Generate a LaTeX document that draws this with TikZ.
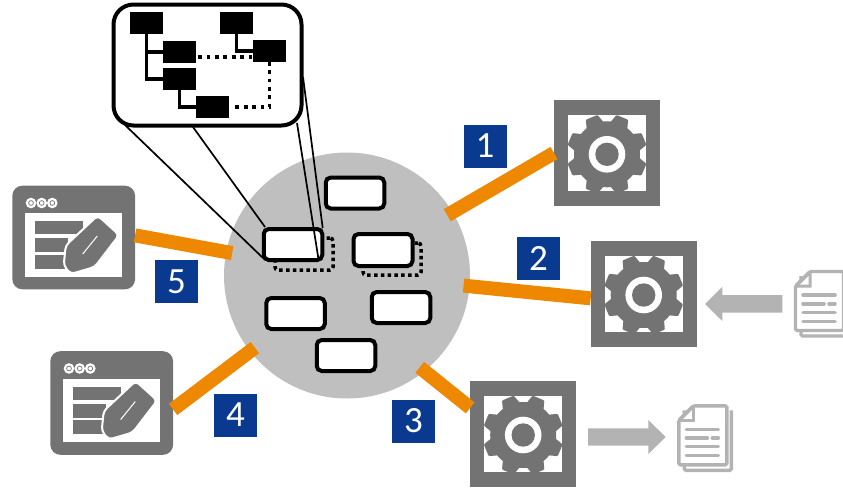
\documentclass[tikz,border=0pt]{standalone}
\usepackage{fontspec}
\setmainfont{Carlito}
\definecolor{icongray}{HTML}{737373}
\definecolor{hubgray}{HTML}{BFBFBF}
\definecolor{lightgray2}{HTML}{B3B3B3}
\definecolor{connorange}{HTML}{EE8800}
\definecolor{badgeblue}{HTML}{0A3A8F}
\tikzset{
  hubnode/.style={circle,fill=hubgray,minimum size=246pt,inner sep=0pt,outer sep=0pt},
  gearbox/.style={rectangle,fill=icongray,minimum size=106pt,inner sep=0pt,outer sep=0pt},
  editbox/.style={rectangle,rounded corners=10pt,fill=icongray,minimum width=122.7pt,minimum height=103.6pt,inner sep=0pt,outer sep=0pt},
  whitebox/.style={rectangle,rounded corners=5pt,draw=black,fill=white,line width=4pt,minimum width=58.5pt,minimum height=31pt,inner sep=0pt,outer sep=0pt},
  dotbox/.style={rectangle,rounded corners=3pt,draw=black,line width=3.5pt,dash pattern=on 3.5pt off 3.3pt,minimum width=58pt,minimum height=32pt,inner sep=0pt,outer sep=0pt},
  callout/.style={rectangle,rounded corners=20pt,draw=black,fill=white,line width=4pt,minimum width=188pt,minimum height=121pt,inner sep=0pt,outer sep=0pt},
  blackbox/.style={rectangle,fill=black,minimum width=33pt,minimum height=21.4pt,inner sep=0pt,outer sep=0pt},
  badge/.style={rectangle,fill=badgeblue,text=white,minimum width=43pt,minimum height=43pt,inner sep=0pt,font=\fontsize{37}{37}\selectfont},
  conn/.style={connorange,line width=14pt,shorten <=-6pt},
  treeline/.style={black,line width=3.6pt},
  dotline/.style={black,line width=3.8pt,dash pattern=on 3.8pt off 4.6pt},
  zoomline/.style={black,line width=1.7pt},
  grayarrow/.style={fill=lightgray2},
  gearicon/.pic={
    \fill[white] (-39.2,-38.2) rectangle (39.2,38.2);
    \begin{scope}[shift={(0,1.3)}]
      \fill[icongray] (0,0) circle[radius=33];
      \foreach \a in {22.5,67.5,...,337.5}
        \fill[icongray,rounded corners=1pt] (\a-18:31) -- (\a-9:40.5) -- (\a+9:40.5) -- (\a+18:31) -- cycle;
      \fill[white] (0,0) circle[radius=18.3];
      \fill[icongray] (0,0) circle[radius=11.7];
    \end{scope}
  },
  editicon/.pic={
    \fill[white] (-49,-24.2) rectangle (48.6,39.2);
    \foreach \x in {-42.7,-32,-21.4}{
      \fill[white] (\x,-34.5) circle[radius=5.3];
      \draw[icongray,line width=.7pt] (\x,-34.5) circle[radius=2.4];
    }
    \fill[icongray] (-39,-16.2) rectangle (9.3,-3.5);
    \fill[icongray] (-39,0.5) rectangle (-6,14.5);
    \fill[icongray] (-39,17.2) rectangle (-8,31.2);
    \draw[fill=icongray,draw=white,line width=2pt,rounded corners=4pt]
      (24,-22) -- (45.5,-2.5) -- (21,29.5) -- (-3,36.5) -- (-10,28) -- (-8,8) -- cycle;
    \draw[white,line width=1pt] (23.6,-1.5) -- (9,16.5);
  },
  docicon/.pic={
    \draw[lightgray2,line width=3.4pt,rounded corners=1.5pt] (7,6) -- (7,66) -- (54,66) -- (54,6);
    \draw[lightgray2,fill=white,line width=3.4pt,rounded corners=1.5pt] (16,1.5) -- (49.5,1.5) -- (49.5,60.5) -- (1.5,60.5) -- (1.5,16) -- cycle;
    \fill[lightgray2] (16,1.5) -- (17.5,1.5) -- (17.5,17.5) -- (1.5,17.5) -- (1.5,16) -- cycle;
    \fill[white] (14.5,6) -- (14.5,14.5) -- (6,14.5) -- cycle;
    \draw[lightgray2,line width=3.6pt,line cap=round] (9,25) -- (41,25);
    \draw[lightgray2,line width=3.6pt,line cap=round] (9,33.7) -- (30,33.7);
    \draw[lightgray2,line width=3.6pt,line cap=round] (35,33.7) -- (41,33.7);
    \draw[lightgray2,line width=3.6pt,line cap=round] (9,42.3) -- (41,42.3);
    \draw[lightgray2,line width=3.6pt,line cap=round] (9,51.3) -- (41,51.3);
  }
}
\begin{document}
\begin{tikzpicture}[x=1pt,y=-1pt]
\useasboundingbox (0,0) rectangle (843,488);
% hub
\node[hubnode] (hub) at (347,275.5) {};
% icons
\node[gearbox] (g1) at (607,153) {};
\node[gearbox] (g2) at (643.7,293.7) {};
\node[gearbox] (g3) at (523.2,433.7) {};
\node[editbox] (e5) at (73.7,237.5) {};
\node[editbox] (e4) at (111.7,403) {};
% connectors
\draw[conn] (hub.31.4) -- (g1.west);
\draw[conn] (hub.-5.7) -- (g2.185.4);
\draw[conn] (hub.-51.4) -- (g3.154);
\draw[conn] (hub.218) -- (e4.-6.5);
\draw[conn] (hub.169) -- (e5.2.5);
\pic at (g1.center) {gearicon};
\pic at (g2.center) {gearicon};
\pic at (g3.center) {gearicon};
\pic at (e5.center) {editicon};
\pic at (e4.center) {editicon};
% gray arrows and documents
\fill[grayarrow] (782.3,295) -- (722.3,295) -- (722.3,286.7) -- (705,304) -- (722.3,321) -- (722.3,312.7) -- (782.3,312.7) -- cycle;
\fill[grayarrow] (588,428.3) -- (648.3,428.3) -- (648.3,420) -- (665.7,437) -- (648.3,454) -- (648.3,445.7) -- (588,445.7) -- cycle;
\pic at (794,270) {docicon};
\pic at (677.3,404.3) {docicon};
% boxes in hub
\node[dotbox] (d2) at (304,254) {};
\node[dotbox] (d3) at (392,259) {};
\node[whitebox] (b1) at (355,193) {};
\node[whitebox] (b2) at (293,244.5) {};
\node[whitebox,minimum width=59pt,minimum height=32pt] (b3) at (383,250) {};
\node[whitebox] (b4) at (295.5,313.5) {};
\node[whitebox] (b5) at (401,307.5) {};
\node[whitebox] (b6) at (346,355.5) {};
% callout
\node[callout] (call) at (207.5,65) {};
\coordinate (z1) at (125,125);
\coordinate (z2) at (193,127);
\coordinate (z3) at (297,123);
\coordinate (z4) at (303,77);
\coordinate (t1) at (263,258);
\coordinate (t2) at (265,227);
\coordinate (t3) at (318.3,258);
\coordinate (t4) at (322.7,228);
\draw[zoomline] (z1) -- (t1);
\draw[zoomline] (z2) -- (t2);
\draw[zoomline] (z3) -- (t3);
\draw[zoomline] (z4) -- (t4);
\node[blackbox] (A) at (146.3,23) {};
\node[blackbox] (B) at (179.6,52) {};
\node[blackbox] (C) at (179.6,79) {};
\node[blackbox] (D) at (212.5,107) {};
\node[blackbox] (E) at (236.5,23) {};
\node[blackbox] (F) at (269.5,51) {};
\draw[treeline] (A.south) |- (B.west);
\draw[treeline] (A.south) |- (C.west);
\draw[treeline] (C.south) |- (D.west);
\draw[treeline] (E.south) |- (F.west);
\coordinate (bd) at ([yshift=-5pt]B.east);
\draw[dotline] ([xshift=2pt]bd) -- (bd -| F.west);
\draw[dotline] (F.south) |- ([xshift=4pt]D.east);
% badges
\node[badge] (n1) at (485,146) {1};
\node[badge] (n2) at (538.5,258.5) {2};
\node[badge] (n3) at (413.5,421) {3};
\node[badge] (n4) at (235.5,415) {4};
\node[badge] (n5) at (176.5,281.5) {5};
\end{tikzpicture}
\end{document}
